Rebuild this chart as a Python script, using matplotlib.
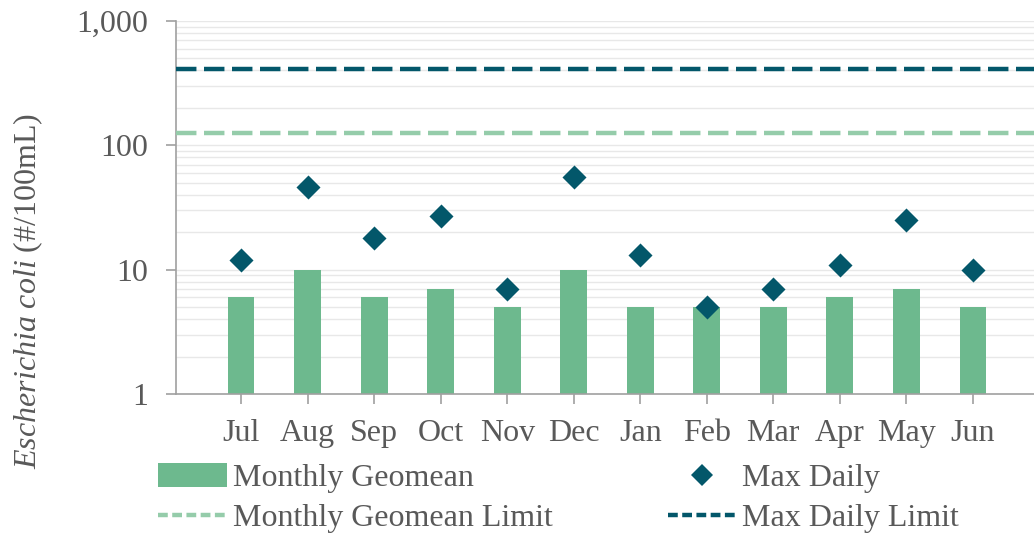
import matplotlib
matplotlib.use("Agg")
import matplotlib.pyplot as plt
from matplotlib.lines import Line2D
from matplotlib.patches import Patch
from matplotlib.ticker import FixedLocator, LogLocator, NullFormatter, FuncFormatter

months = ["Jul", "Aug", "Sep", "Oct", "Nov", "Dec", "Jan", "Feb", "Mar", "Apr", "May", "Jun"]
geomean = [6, 10, 6, 7, 5, 10, 5, 5, 5, 6, 7, 5]
max_daily = [12, 46, 18, 27, 7, 56, 13, 5, 7, 11, 25, 10]
geomean_limit = 126
max_daily_limit = 410

BAR = "#6DB98E"
DARK = "#03576A"
LIGHT = "#95CCAA"
TXT = "#595959"
GRID = "#E8E8E8"
FS = 23

plt.rcParams["font.family"] = ["Liberation Serif", "DejaVu Serif"]
plt.rcParams["mathtext.fontset"] = "custom"
plt.rcParams["mathtext.it"] = "Liberation Serif:italic"
plt.rcParams["mathtext.rm"] = "Liberation Serif"

fig = plt.figure(figsize=(10.34, 5.37), dpi=100)
ax = fig.add_axes([176/1034, 1-394/537, 1-176/1034, (394-21)/537])

x = list(range(len(months)))
ax.set_yscale("log")
ax.set_ylim(1, 1000)
ax.set_xlim(-0.98, 11.92)

ax.yaxis.set_minor_locator(LogLocator(base=10, subs=range(2, 10)))
ax.yaxis.set_minor_formatter(NullFormatter())
ax.yaxis.set_major_locator(FixedLocator([1, 10, 100, 1000]))
ax.yaxis.set_major_formatter(FuncFormatter(lambda v, p: f"{int(round(v)):,}"))
ax.grid(True, which="both", axis="y", color=GRID, lw=1.0, zorder=0)
ax.set_axisbelow(True)

ax.bar(x, geomean, width=0.4, color=BAR, zorder=2)
ax.scatter(x, max_daily, marker="D", s=150, color=DARK, zorder=4, linewidths=0)
ax.axhline(geomean_limit, color=LIGHT, lw=3.2, dashes=(4.6, 1.7), zorder=3)
ax.axhline(max_daily_limit, color=DARK, lw=3.2, dashes=(4.6, 1.7), zorder=3)

ax.set_xticks(x)
ax.set_xticklabels(months)
for s in ["top", "right"]:
    ax.spines[s].set_visible(False)
for s in ["left", "bottom"]:
    ax.spines[s].set_color("#A0A0A0")
    ax.spines[s].set_linewidth(1.2)
ax.tick_params(axis="both", which="major", colors="#A0A0A0", labelcolor=TXT,
               labelsize=FS, length=7, width=1.2)
ax.tick_params(axis="y", which="minor", length=0)
ax.tick_params(axis="y", pad=13)
ax.tick_params(axis="x", pad=11)

fig.text(28/1034, 1-291/537, r"$\mathit{Escherichia\ coli}$ (#/100mL)", rotation=90,
         ha="center", va="center", fontsize=FS, color=TXT)

handles = [
    Patch(facecolor=BAR, edgecolor="none"),
    Line2D([], [], color=LIGHT, lw=3.2, dashes=(2.2, 1.0)),
    Line2D([], [], marker="D", color=DARK, ls="none", markersize=11, markeredgewidth=0),
    Line2D([], [], color=DARK, lw=3.2, dashes=(2.2, 1.0)),
]
labels = ["Monthly Geomean", "Monthly Geomean Limit", "Max Daily", "Max Daily Limit"]
fig.legend(handles, labels, ncol=2, loc="upper left", bbox_to_anchor=(158/1034, 1-463/537),
           frameon=False, fontsize=FS, labelcolor=TXT, handlelength=2.15, handleheight=0.8,
           handletextpad=0.19, columnspacing=3.6, labelspacing=0.3, borderpad=0, borderaxespad=0)

fig.savefig("out.png", dpi=100)
